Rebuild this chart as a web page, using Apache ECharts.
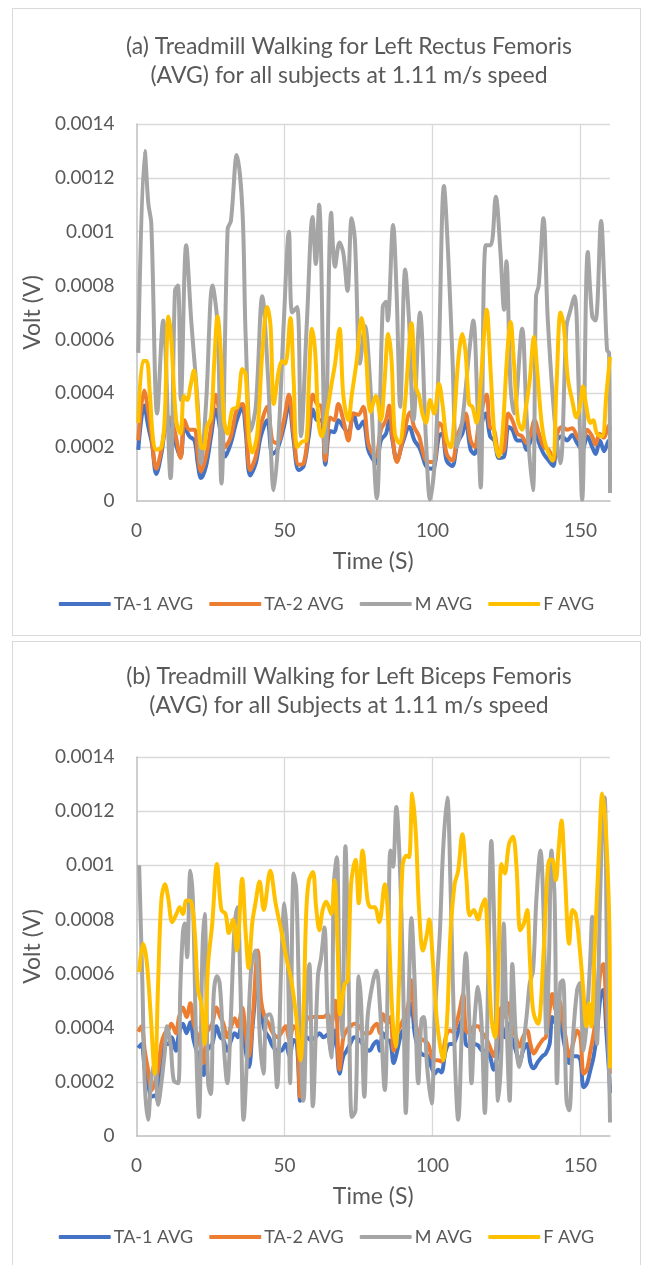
<!DOCTYPE html>
<html>
<head>
<meta charset="utf-8">
<script src="https://cdn.jsdelivr.net/npm/echarts@6/dist/echarts.min.js"></script>
<style>
    html, body {margin: 0; padding: 0; background: #fff; width: 646px; height: 1265px; overflow: hidden;}
    .box {position: absolute; left: 12px; width: 627px; border: 1px solid #d9d9d9; background: #fff;}
    #chartA {top: 8px; height: 626px;}
    #chartB {top: 641px; height: 640px;}
</style>
</head>
<body>
<div id="chartA" class="box"></div>
<div id="chartB" class="box"></div>
<script>
// values are [time (s), volt in units of 0.0001 V]
const UNIT = 1e-4

const seriesNames = ['TA-1 AVG', 'TA-2 AVG', 'M AVG', 'F AVG']
const seriesColors = ['#4472c4', '#ed7d31', '#a5a5a5', '#ffc000']
const yTicks = [0, 0.0002, 0.0004, 0.0006, 0.0008, 0.001, 0.0012, 0.0014]
const xTicks = [0, 50, 100, 150]

// (a) Left Rectus Femoris
const rectusTA1 = [[0.6,1.9],[2.6,3.55],[4,2.75],[5.2,2.15],[6.7,1.0],[8.4,1.75],[9.8,2.75],[11.2,3.0],[12.9,2.25],[14.9,1.65],[16.2,2.75],[17.9,2.4],[19.6,2.25],[20.7,1.4],[21.8,0.85],[23.5,1.3],[25.2,2.4],[26.8,3.4],[28.5,2.5],[30,1.65],[31.9,2.15],[33.9,3.0],[35.8,3.5],[36.9,2.6],[38.4,0.95],[40.3,1.4],[42,2.4],[44.2,3.0],[45.9,1.75],[47.5,1.9],[49.8,2.75],[51.5,3.6],[53.1,2.25],[54.8,1.15],[56.5,1.3],[58.2,2.4],[59.6,3.4],[61,3.0],[62.6,3.0],[63.8,1.35],[65.4,2.6],[66.8,2.55],[68.2,3.0],[69.9,2.75],[71.6,2.5],[73.3,3.25],[75,2.7],[76.6,2.95],[78.3,1.9],[79.6,1.6],[81,1.4],[82.6,2.25],[84.3,2.5],[85.4,3.0],[86.5,2.25],[88,1.5],[89.9,2.15],[92.2,2.75],[93.9,2.25],[95.5,2.0],[96.7,1.65],[97.8,1.3],[99.4,1.2],[100.6,1.25],[102.2,2.4],[103.3,2.5],[104.8,1.5],[106.7,1.3],[108.4,2.15],[110.1,2.5],[111.2,3.0],[112.9,1.9],[114.2,1.75],[115.7,2.5],[118,3.25],[119.5,2.4],[120.9,2.25],[122.5,1.6],[124.2,1.65],[125.7,2.75],[127,2.65],[128.7,2.25],[130.4,2.25],[131.8,1.9],[133.2,2.25],[134.5,2.65],[136,2.15],[137.6,1.75],[139.3,1.5],[140.8,1.3],[142.1,2.25],[143.8,2.4],[145.5,2.25],[147.2,2.45],[148.9,2.15],[150.6,1.9],[152.3,2.4],[154,2.0],[155.1,1.75],[156.6,2.25],[158,1.85],[159.6,2.25],[160,2.0]]
const rectusTA2 = [[0.6,2.25],[2.6,4.1],[3.9,3.4],[5,2.5],[6.7,1.2],[8.4,1.9],[10.1,3.0],[11.2,3.1],[12.9,2.6],[14.9,1.6],[16.2,3.0],[17.9,2.65],[19.6,2.65],[20.7,1.75],[21.8,1.1],[23.5,1.65],[25.2,2.75],[26.8,3.95],[28.5,2.9],[30,2.0],[31.9,2.4],[33.9,3.4],[35.8,3.6],[36.9,3.0],[38.4,1.15],[40.3,1.65],[41.9,2.75],[44.2,3.5],[45.9,2.25],[47.5,2.15],[49.8,3.0],[51.5,3.95],[53.1,2.5],[54.8,1.35],[56.5,1.4],[58.2,2.75],[59.6,3.95],[61,3.6],[62.6,3.5],[63.8,1.5],[65.4,3.1],[66.8,3.0],[68.2,3.6],[69.9,3.0],[71.6,2.25],[73.3,3.25],[74.9,3.2],[76.6,3.5],[78.3,2.15],[79.6,1.8],[80.9,1.65],[82.6,2.65],[84.3,3.0],[85.4,3.55],[86.5,2.4],[88,1.45],[89.9,2.25],[92.5,3.3],[93.8,2.75],[95.5,2.4],[96.6,1.9],[97.8,1.5],[99.4,1.45],[100.6,1.45],[102.2,2.9],[103.4,2.75],[104.8,1.75],[106.7,1.5],[108.4,2.4],[110.1,2.9],[111.2,3.25],[112.9,2.25],[114.3,2.0],[115.7,2.9],[118.3,3.95],[119.4,2.75],[120.8,2.65],[122.5,1.75],[124.2,1.9],[125.6,3.25],[127,3.0],[128.7,2.5],[130.3,2.4],[131.8,2.15],[133.2,2.5],[134.5,3.0],[136,2.5],[137.7,2.0],[139.3,1.9],[140.8,1.5],[142.2,2.5],[143.8,2.75],[145.5,2.65],[147.2,2.7],[148.9,2.4],[150.6,2.15],[152.3,2.65],[154,2.4],[155.1,2.1],[156.5,2.5],[157.9,2.35],[159.6,2.8],[160,2.6]]
const rectusM = [[0.6,5.5],[2.8,13.0],[4,11.05],[5,10.3],[7,3.25],[9,6.7],[11.5,0.85],[13,7.8],[14,8.0],[15,3.75],[16.8,9.5],[18.5,6.7],[20.7,3.6],[21.8,1.4],[23.5,3.6],[25.7,8.0],[27.4,6.5],[28.7,0.65],[30.8,10.1],[31.9,10.4],[33.9,12.85],[35.8,10.8],[36.9,6.1],[38.6,2.6],[40.3,3.5],[42.5,7.6],[44.5,4.5],[46.4,0.4],[48,2.4],[49.8,6.7],[51.5,10.0],[52.6,7.0],[54.3,7.2],[55.6,2.4],[57.6,6.7],[59.5,10.55],[60.6,8.8],[61.7,11.0],[63.8,1.8],[65.8,10.7],[67.1,8.7],[68.6,9.6],[69.9,9.2],[71.3,7.8],[72.7,10.5],[73.8,9.7],[75.5,5.1],[77.2,6.5],[78.9,4.5],[81.2,0.1],[83.2,7.2],[84.3,7.4],[84.9,6.7],[86.7,10.25],[87.9,7.7],[89.1,3.5],[90.8,8.6],[92.1,6.7],[93.6,3.0],[95.8,7.0],[97.8,2.3],[99.2,0.05],[101,1.8],[102.2,5.5],[103.9,11.7],[105.3,9.2],[106.7,5.5],[108.2,2.0],[110.1,3.0],[112.4,5.5],[113.8,6.7],[115.2,3.6],[116.3,0.5],[118,9.5],[119.7,9.5],[121.4,11.3],[123,9.2],[124.2,7.1],[125,8.9],[126.4,4.25],[127.6,3.25],[130.3,6.4],[131.9,3.0],[133.9,0.4],[135,7.6],[135.9,8.0],[137.5,10.5],[139,6.7],[141.3,3.0],[143.2,1.4],[145.3,6.5],[146.4,7.0],[148,7.6],[149.4,4.25],[150.6,0.05],[152.5,9.25],[154,6.85],[155.1,6.7],[157,10.4],[158.1,8.0],[159,5.6],[159.7,5.5],[160,0.3]]
const rectusF = [[0.6,2.9],[2.2,5.2],[3.4,5.2],[4.5,4.0],[5.6,2.3],[6.7,1.9],[8.4,2.0],[9.5,3.0],[10.8,6.85],[11.7,6.1],[13.4,3.0],[14.9,2.5],[16,3.9],[17.1,3.75],[18.2,4.25],[19.4,4.85],[20.7,3.25],[21.8,2.0],[22.7,1.95],[23.8,2.75],[25.2,3.1],[26.3,5.2],[27.4,6.85],[28.5,5.5],[29.6,3.0],[30.8,2.5],[32.4,3.4],[34.1,3.5],[35.8,4.9],[36.9,4.7],[38,2.4],[39.1,1.8],[40.8,2.5],[42.5,5.5],[44.2,7.2],[45.3,6.5],[46.4,3.6],[48.1,4.85],[49.2,5.2],[50.3,5.1],[52,6.8],[53.1,4.5],[54.3,2.0],[55.9,2.2],[57.4,2.25],[58.2,4.25],[59.3,6.4],[60.4,5.5],[61.5,2.9],[62.6,2.4],[64.3,3.25],[66,4.4],[67.1,5.1],[68.6,6.4],[69.9,3.9],[71.6,3.0],[72.7,3.9],[74.4,5.2],[76.1,6.8],[77.5,5.5],[79.1,3.3],[80.9,3.9],[82.6,3.0],[83.7,4.25],[85.1,6.2],[86.2,5.2],[87.3,2.5],[88.8,2.15],[90.4,3.25],[91.8,5.2],[92.9,6.6],[94.4,4.25],[95.5,3.9],[96.6,3.25],[97.8,2.9],[99.2,3.75],[100.6,3.25],[102.2,4.35],[103.4,3.6],[104.8,2.3],[106.2,2.0],[107.3,3.0],[108.7,5.2],[110.1,6.2],[111.2,5.5],[112.4,3.6],[113.5,3.5],[114.9,2.9],[116.3,4.35],[117.4,6.1],[118.3,7.1],[119.7,4.75],[121,2.4],[122.5,1.65],[123.6,2.4],[125.3,5.5],[126.4,6.65],[127.5,5.2],[128.9,3.0],[130.3,2.65],[131.5,3.4],[132.9,4.5],[134.3,6.1],[135.4,4.85],[136.8,3.0],[138.2,2.1],[140.5,1.5],[141.9,4.25],[143.3,7.0],[144.4,6.5],[145.7,4.6],[147.2,3.75],[148.7,3.1],[149.8,3.5],[150.9,4.25],[152,3.5],[153.4,2.9],[154.3,3.0],[155.6,2.5],[157.3,2.4],[158.8,4.0],[160,5.35]]

// (b) Left Biceps Femoris
const bicepsTA1 = [[0.6,3.25],[1.7,3.4],[2.8,2.45],[3.9,1.95],[5.1,1.45],[6.2,1.5],[7.3,1.3],[8.4,2.7],[9.6,3.4],[10.7,3.4],[11.8,3.65],[13.3,3.15],[14.4,3.8],[15.7,4.15],[16.9,3.8],[18.2,4.2],[19.3,3.55],[20.8,2.95],[21.9,2.55],[22.7,2.25],[23.8,3.15],[25.6,3.4],[27,4.05],[28.3,3.65],[29.4,3.55],[30.6,3.15],[32,3.55],[33.2,3.8],[34.3,3.65],[35.4,4.05],[36.5,3.4],[38,2.55],[39.3,4.15],[41,5.9],[42.1,4.65],[43.3,3.9],[44.7,3.65],[46.1,3.3],[47.8,3.15],[48.9,3.15],[50.4,3.4],[51.7,2.95],[53.1,3.55],[54.2,3.4],[55.3,1.3],[56.4,3.15],[57.5,3.65],[59,3.55],[60.5,3.65],[61.8,3.8],[63.2,3.65],[64.6,3.75],[65.8,3.15],[67.2,3.9],[68.6,2.3],[69.9,2.95],[71,3.15],[72.2,3.4],[73.6,3.65],[75.3,3.55],[77,3.3],[78.7,3.15],[80.2,3.4],[81.3,3.5],[82.2,3.15],[83.3,3.8],[84.7,3.55],[85.8,3.5],[86.9,2.7],[88.1,3.15],[89.5,3.8],[91,4.05],[92.1,4.5],[92.9,4.9],[94,3.8],[95.5,3.15],[96.8,3.0],[98.5,2.95],[99.7,2.55],[100.8,2.3],[101.9,2.45],[103,2.35],[104.5,3.15],[105.9,3.4],[107,3.4],[108.1,3.65],[109.2,4.05],[110.4,4.4],[111.3,3.4],[112.6,3.3],[114,3.4],[115.4,3.35],[116.9,3.15],[118,3.15],[119.4,2.95],[120.7,2.45],[122.2,3.15],[123.3,4.15],[124.4,3.65],[125.6,4.15],[126.7,3.65],[128.2,3.15],[129.5,2.7],[130.6,3.15],[132,3.4],[133.1,2.7],[134.2,2.5],[135.7,2.75],[137.2,2.95],[138.3,3.05],[139.6,3.4],[140.5,4.4],[141.7,4.15],[142.8,4.4],[143.9,3.8],[145,3.15],[146.2,2.7],[147.5,2.95],[148.9,2.95],[150,2.8],[151.1,1.8],[152.2,1.95],[153.4,2.45],[154.5,2.95],[155.6,3.8],[156.8,5.15],[157.7,5.4],[158.8,3.8],[159.9,1.95],[160,1.6]]
const bicepsTA2 = [[0.6,3.85],[1.7,4.05],[2.8,3.15],[3.9,2.45],[5.1,1.7],[6.2,1.95],[7.3,2.45],[8.4,3.4],[9.6,3.8],[10.7,3.9],[11.8,4.15],[13.3,3.8],[14.4,4.4],[15.7,4.75],[16.9,4.4],[18.2,4.9],[19.3,4.15],[20.8,3.65],[21.9,3.15],[22.7,2.7],[23.8,3.8],[25.6,4.15],[27,4.75],[28.3,4.4],[29.4,4.15],[30.6,3.65],[32,4.05],[33.2,4.35],[34.3,4.05],[35.7,4.75],[36.9,3.8],[38,2.95],[39.3,4.4],[41,6.85],[42.1,5.0],[43.3,4.4],[44.7,4.15],[46.1,3.8],[47.8,3.65],[48.9,3.8],[50.4,4.05],[51.7,3.55],[53.1,4.05],[54.2,3.9],[55.3,1.45],[56.4,3.55],[57.5,4.3],[59,4.4],[60.5,4.4],[61.8,4.4],[63.2,4.4],[64.6,4.5],[65.8,4.15],[67.2,5.0],[68.6,2.45],[69.9,3.65],[71,3.9],[72.2,4.05],[73.6,4.15],[75.3,4.05],[77,3.8],[78.7,3.8],[80.2,4.05],[81.3,4.15],[82.2,3.8],[83.3,4.5],[84.7,4.15],[85.8,4.4],[86.9,3.15],[88.1,3.8],[89.5,4.15],[91,4.5],[92.1,5.0],[92.9,5.75],[94,4.4],[95.5,3.65],[96.8,3.55],[98.5,3.4],[99.7,2.95],[100.8,2.8],[101.9,2.8],[103,2.75],[104.5,3.65],[105.9,3.9],[107,3.85],[108.1,4.15],[109.2,4.65],[110.4,5.25],[111.3,3.9],[112.6,3.8],[114,4.05],[115.4,4.05],[116.9,3.8],[118,3.65],[119.4,3.3],[120.7,2.95],[122.2,3.8],[123.3,4.75],[124.4,4.4],[125.6,4.9],[126.7,4.15],[128.2,3.65],[129.5,3.3],[130.6,3.65],[132,3.9],[133.1,3.4],[134.2,3.05],[135.7,3.3],[137.2,3.55],[138.3,3.65],[139.6,4.65],[140.5,5.25],[141.7,4.65],[142.8,5.0],[143.9,4.4],[145,3.65],[146.2,2.95],[147.5,3.4],[148.9,3.9],[150,3.65],[151.1,2.3],[152.2,2.45],[153.4,3.15],[154.5,3.8],[155.6,4.65],[156.8,6.1],[157.7,6.35],[158.8,4.65],[159.9,2.55],[160,2.3]]
const bicepsM = [[0.9,10.0],[2,5.6],[2.8,1.95],[3.9,0.6],[5.1,2.2],[6.2,2.7],[7.3,1.15],[8.4,1.95],[9.6,3.15],[10.3,4.05],[11.5,3.4],[12.6,2.05],[14.1,1.95],[14.8,5.4],[15.7,7.55],[16.3,7.85],[17.1,6.6],[18.2,9.8],[19.1,8.6],[20.2,3.15],[21.1,0.7],[22.3,6.85],[23,8.2],[24.2,1.95],[25.1,1.55],[26.1,5.25],[27.2,5.9],[28.1,5.65],[29.2,3.8],[30.7,1.95],[31.8,4.15],[33.2,7.85],[34.1,8.45],[35.1,5.65],[36.2,0.6],[37.7,3.8],[38.8,6.25],[40.2,6.85],[41.8,3.4],[42.9,2.3],[43.8,4.4],[45,4.5],[46.3,3.8],[47.5,1.8],[48.9,6.25],[50,8.6],[51.1,6.6],[51.9,1.95],[53.1,9.7],[54,9.1],[55.1,4.4],[56.4,1.3],[57.7,5.75],[58.4,6.35],[59.6,1.1],[61.3,5.9],[62.4,6.6],[63.5,7.7],[64.6,4.4],[65.8,2.9],[66.7,9.3],[67.7,10.3],[68.6,5.65],[69.5,3.65],[70.6,10.7],[71.7,5.65],[72.8,0.7],[74,0.95],[75.1,5.9],[75.9,4.9],[77,1.45],[78.1,4.4],[79.8,5.65],[81.1,6.1],[82.2,4.9],[83.9,1.7],[85,6.25],[85.8,10.55],[86.7,9.95],[87.8,12.15],[89,9.95],[90.1,5.65],[91,0.85],[92.1,5.65],[92.9,8.05],[94,5.65],[95.2,1.95],[96.3,4.3],[97.1,4.4],[98.2,2.55],[99.7,1.2],[100.8,4.4],[102.5,7.5],[103.6,10.55],[105,12.5],[106.1,9.3],[107.5,3.15],[108.7,0.6],[110.1,4.4],[111.3,6.75],[112.4,4.4],[113.2,1.95],[114.3,4.4],[115.4,5.5],[116.6,4.15],[117.7,0.85],[118.8,5.65],[119.9,10.9],[121.1,6.85],[122.2,1.3],[123.3,3.15],[124.1,7.85],[125,4.4],[126.1,1.3],[127,6.35],[128.2,3.65],[129.3,2.55],[130.4,3.15],[131.8,4.4],[132.9,5.65],[134,6.1],[135.1,8.7],[136.5,10.55],[137.6,8.1],[138.5,3.8],[139.4,6.6],[140.2,10.55],[141.3,8.7],[142.1,1.95],[143.2,5.65],[144.1,5.75],[145.3,1.3],[146.2,0.95],[147.5,3.65],[148.9,5.4],[149.8,5.65],[151.1,3.15],[152,4.05],[153.2,6.25],[154,8.1],[154.8,5.65],[155.6,3.4],[156.5,8.1],[157.7,12.4],[158.2,12.5],[159,6.25],[159.9,1.3],[160,0.5]]
const bicepsF = [[0.9,6.05],[2.2,7.1],[3.4,6.5],[4.7,4.65],[6.2,2.3],[7.3,5.6],[8.4,8.7],[9.6,9.3],[10.7,8.8],[12.1,7.9],[13.5,8.2],[14.6,8.45],[15.7,8.2],[16.9,8.7],[18.5,8.65],[19.7,7.5],[20.8,5.4],[21.9,4.9],[23,3.4],[24.2,6.35],[25.6,7.85],[27.2,10.05],[28.7,8.35],[30.1,8.2],[31.2,7.5],[32.6,8.0],[33.9,6.85],[35.7,9.5],[36.9,7.5],[37.9,6.2],[39.1,7.85],[40.2,8.6],[41.6,9.4],[43,8.35],[45.2,9.8],[47,8.6],[48.9,7.6],[50.6,6.6],[52.3,5.75],[54,4.4],[55.4,2.8],[56.4,4.4],[57.3,8.1],[58.2,9.4],[59.6,9.75],[60.7,8.45],[61.8,7.6],[62.9,8.35],[64.1,8.65],[65.8,8.2],[66.9,9.45],[68,6.85],[68.8,4.5],[70.3,5.6],[71.4,5.75],[72.5,9.3],[74,10.2],[75.1,8.6],[76.4,10.55],[78.1,8.7],[79.2,8.45],[80.5,8.45],[82,7.9],[83.9,9.3],[85,8.1],[86.5,4.4],[87.6,3.3],[88.7,5.65],[89.9,9.95],[91.2,10.35],[92.1,10.3],[93.2,12.65],[94.4,11.15],[95.5,8.35],[96.8,6.85],[98.2,7.5],[98.9,8.0],[100.2,6.35],[101.4,4.4],[102.5,3.4],[103.6,2.8],[105,4.4],[106.1,7.5],[107.5,9.3],[108.7,9.8],[110.1,11.15],[111.5,9.45],[112.6,8.15],[114,8.35],[115.4,8.0],[116.6,8.45],[117.7,8.75],[118.8,6.85],[119.9,4.4],[121.1,3.65],[122.2,5.75],[123.3,10.05],[124.4,9.7],[125.9,10.8],[127.2,11.05],[128.4,9.95],[129.7,7.6],[130.9,7.85],[132,8.35],[132.9,6.6],[134,4.65],[135.7,4.15],[136.5,4.65],[137.6,6.85],[139.6,10.2],[140.5,10.2],[141.7,9.45],[142.6,10.55],[143.6,11.65],[144.7,9.8],[146.2,7.1],[147.3,8.35],[148.4,8.2],[149.5,7.25],[150.9,5.5],[152,4.05],[152.9,4.9],[153.7,4.05],[154.8,6.85],[156.3,10.55],[157.4,12.65],[158.8,10.9],[159.9,6.85],[160,2.5]]

const FONT = 'Lato'
const TEXT = '#595959'

function toVolt(points) {
    return points.map(p => [p[0], p[1] * UNIT])
}

function makeOption(title, titleTop, gridHeight, lists) {
    return {
        animation: false,
        backgroundColor: '#fff',
        textStyle: {fontFamily: FONT, color: TEXT},
        title: {
            text: title,
            left: 336,
            top: titleTop,
            padding: 0,
            textAlign: 'center',
            textStyle: {fontFamily: FONT, fontSize: 23, fontWeight: 'normal', color: TEXT, lineHeight: 29}
        },
        legend: {
            top: 581,
            left: 'center',
            icon: 'roundRect',
            itemWidth: 52,
            itemHeight: 4,
            itemGap: 16,
            textStyle: {fontFamily: FONT, fontSize: 18, color: TEXT, padding: [0, 0, 0, -2]},
            data: seriesNames
        },
        grid: {left: 120, top: 115, width: 477, height: gridHeight},
        xAxis: {
            type: 'value',
            min: xTicks[0],
            max: 160,
            interval: xTicks[1] - xTicks[0],
            name: 'Time (S)',
            nameLocation: 'middle',
            nameGap: 49,
            nameTextStyle: {fontFamily: FONT, fontSize: 23, color: TEXT},
            axisLine: {show: true, lineStyle: {color: '#bfbfbf', width: 1.5}},
            axisTick: {show: false},
            axisLabel: {fontFamily: FONT, fontSize: 19, color: TEXT, margin: 20, showMaxLabel: false},
            splitLine: {show: true, showMinLine: false, showMaxLine: false, lineStyle: {color: '#d9d9d9', width: 1.3}}
        },
        yAxis: {
            type: 'value',
            min: 0,
            max: yTicks[yTicks.length - 1],
            interval: yTicks[1],
            name: 'Volt (V)',
            nameLocation: 'middle',
            nameGap: 89,
            nameTextStyle: {fontFamily: FONT, fontSize: 23, color: TEXT},
            axisLine: {show: true, lineStyle: {color: '#bfbfbf', width: 1.5}},
            axisTick: {show: false},
            axisLabel: {fontFamily: FONT, fontSize: 19, color: TEXT, margin: 22},
            splitLine: {show: true, showMinLine: false, lineStyle: {color: '#d9d9d9', width: 1.3}}
        },
        series: lists.map((list, i) => ({
            name: seriesNames[i],
            type: 'line',
            data: toVolt(list),
            smooth: 0.35,
            symbol: 'none',
            clip: true,
            lineStyle: {color: seriesColors[i], width: 4},
            itemStyle: {color: seriesColors[i]}
        }))
    }
}

let chartA = echarts.init(document.getElementById('chartA'))
chartA.setOption(makeOption(
    '(a) Treadmill Walking for Left Rectus Femoris\n(AVG) for all subjects at 1.11 m/s speed',
    23, 377,
    [rectusTA1, rectusTA2, rectusM, rectusF]
))

let chartB = echarts.init(document.getElementById('chartB'))
chartB.setOption(makeOption(
    '(b) Treadmill Walking for Left Biceps Femoris\n(AVG) for all Subjects at 1.11 m/s speed',
    20, 379,
    [bicepsTA1, bicepsTA2, bicepsM, bicepsF]
))
</script>
</body>
</html>
